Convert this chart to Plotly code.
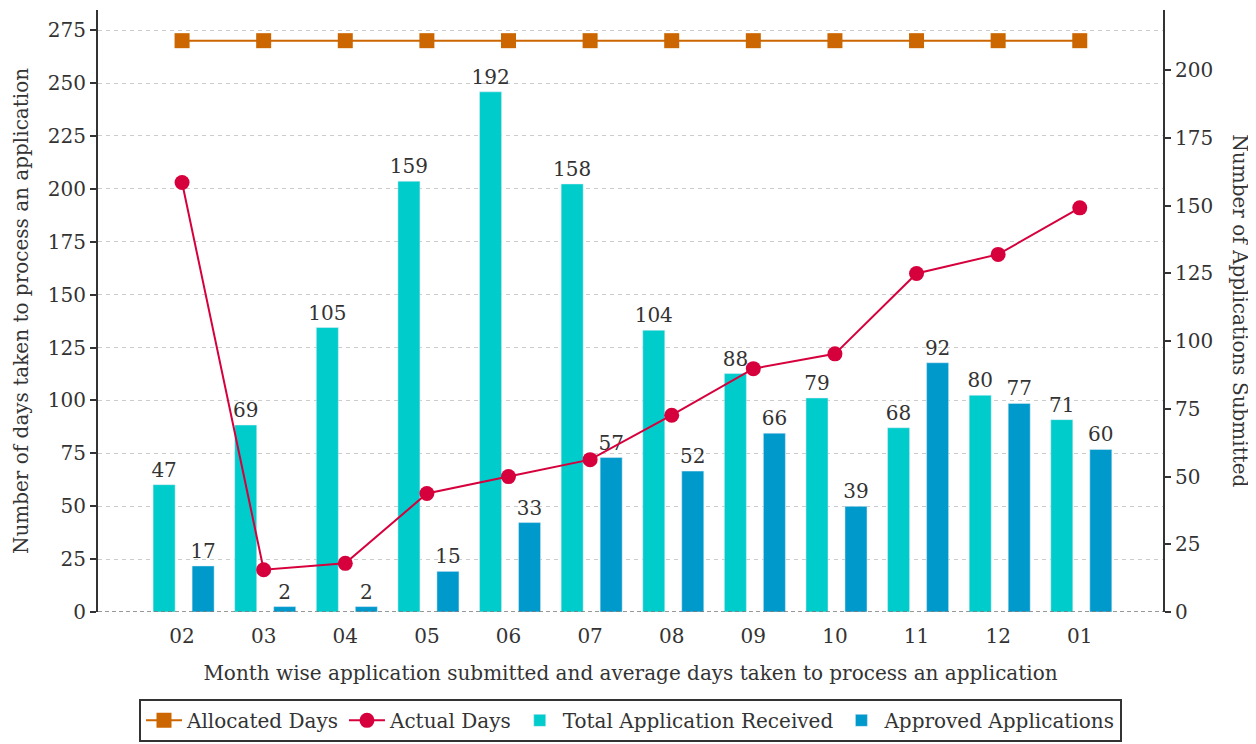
import plotly.graph_objects as go

months = ["02", "03", "04", "05", "06", "07", "08", "09", "10", "11", "12", "01"]
allocated_days = [270] * 12
actual_days = [203, 20, 23, 56, 64, 72, 93, 115, 122, 160, 169, 191]
total_received = [47, 69, 105, 159, 192, 158, 104, 88, 79, 68, 80, 71]
approved = [17, 2, 2, 15, 33, 57, 52, 66, 39, 92, 77, 60]

FONT = "DejaVu Serif"
FS = 20
TXT = "#333333"

fig = go.Figure()
fig.add_trace(go.Scatter(
    x=months, y=allocated_days, name="Allocated Days", mode="lines+markers",
    line=dict(color="#CC6600", width=2), marker=dict(symbol="square", size=15, color="#CC6600"),
    yaxis="y2",
))
fig.add_trace(go.Scatter(
    x=months, y=actual_days, name="Actual Days", mode="lines+markers",
    line=dict(color="#D6003C", width=2), marker=dict(symbol="circle", size=15, color="#D6003C"),
    yaxis="y2",
))
fig.add_trace(go.Bar(
    x=months, y=total_received, name="Total Application Received",
    marker_color="#00CCCC", width=0.27, offset=-0.355,
    text=total_received, textposition="outside", cliponaxis=False, constraintext="none",
    textfont=dict(family=FONT, size=FS, color=TXT), yaxis="y",
))
fig.add_trace(go.Bar(
    x=months, y=approved, name="Approved Applications",
    marker_color="#0099CC", width=0.27, offset=0.123,
    text=approved, textposition="outside", cliponaxis=False, constraintext="none",
    textfont=dict(family=FONT, size=FS, color=TXT), yaxis="y",
))

# page body has an 8px margin, so the figure is offset by 8px
fig.update_layout(
    width=1248, height=736,
    margin=dict(l=90, r=93, t=2, b=128),
    paper_bgcolor="white", plot_bgcolor="white",
    font=dict(family=FONT, size=FS, color=TXT),
    barmode="overlay",
    showlegend=True,
    legend=dict(orientation="h", x=0.5, xanchor="center", y=-0.18, yanchor="middle",
                bordercolor="#333333", borderwidth=2, traceorder="normal",
                tracegroupgap=0, itemwidth=36,
                font=dict(family=FONT, size=FS, color=TXT)),
    xaxis=dict(
        type="category", categoryorder="array", categoryarray=months,
        range=[-1.03, 12.02], showgrid=False, showline=False, zeroline=False,
        ticks="", tickfont=dict(size=FS), automargin=False, ticklabelstandoff=10,
        title=dict(text="Month wise application submitted and average days taken to process an application",
                   font=dict(size=FS), standoff=18),
    ),
    yaxis=dict(
        side="right", range=[0, 222.2], dtick=25, showgrid=False, zeroline=False,
        showline=True, linecolor="#333333", linewidth=2, automargin=False,
        ticks="outside", ticklen=6, tickcolor="#333333", tickwidth=2,
        tickfont=dict(size=FS),
    ),
    yaxis2=dict(
        side="left", overlaying="y", range=[0, 284.5], dtick=25,
        showgrid=True, gridcolor="#CCCCCC", griddash="4px,4px", gridwidth=1.2,
        zeroline=False, automargin=False,
        showline=True, linecolor="#333333", linewidth=2,
        ticks="outside", ticklen=6, tickcolor="#333333", tickwidth=2,
        tickfont=dict(size=FS),
        title=dict(text="Number of days taken to process an application", font=dict(size=FS), standoff=14),
    ),
    annotations=[dict(
        text="Number of Applications Submitted", textangle=90,
        xref="paper", yref="paper", x=1.072, y=0.5, xanchor="center", yanchor="middle",
        showarrow=False, font=dict(family=FONT, size=FS, color=TXT),
    )],
    shapes=[dict(type="line", xref="paper", yref="y2", x0=0, x1=1, y0=0, y1=0,
                 line=dict(color="#777777", width=1.5, dash="4px,3px"))],
)

fig.write_html("out.html")
